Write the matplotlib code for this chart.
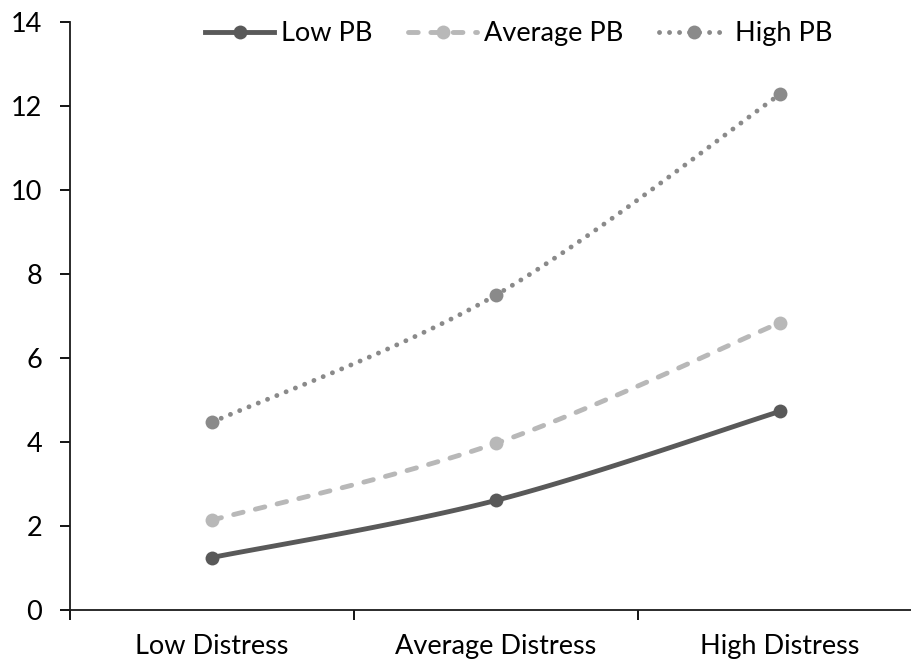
import numpy as np
import matplotlib
matplotlib.use("Agg")
import matplotlib.pyplot as plt

plt.rcParams['font.family'] = ['Lato', 'DejaVu Sans']

categories = ['Low Distress', 'Average Distress', 'High Distress']
low_pb = [1.25, 2.61, 4.73]
avg_pb = [2.14, 3.97, 6.84]
high_pb = [4.47, 7.50, 12.28]


def smooth(xs, ys, n=40):
    # Excel-like smoothed line: bezier segments through the points
    p = np.column_stack([xs, ys]).astype(float)
    ext = np.vstack([p[0], p, p[-1]])
    out = []
    for i in range(len(p) - 1):
        p0, p1 = ext[i + 1], ext[i + 2]
        c1 = p0 + (ext[i + 2] - ext[i]) / 6
        c2 = p1 - (ext[i + 3] - ext[i + 1]) / 6
        t = np.linspace(0, 1, n)[:, None]
        seg = (1 - t) ** 3 * p0 + 3 * (1 - t) ** 2 * t * c1 + 3 * (1 - t) * t ** 2 * c2 + t ** 3 * p1
        out.append(seg if i == 0 else seg[1:])
    s = np.vstack(out)
    return s[:, 0], s[:, 1]


fig = plt.figure(figsize=(9.12, 6.63), dpi=100)
ax = fig.add_axes([70 / 912, 1 - 610 / 663, 852 / 912, 588 / 663])

x = np.arange(len(categories))
series = [
    ('Low PB', low_pb, '#595959', '-', 'butt'),
    ('Average PB', avg_pb, '#b8b8b8', (0, (2, 2.6)), 'round'),
    ('High PB', high_pb, '#8a8a8a', (0, (0.01, 2.05)), 'round'),
]
handles = []
for name, vals, col, ls, cap in series:
    sx, sy = smooth(x, vals)
    ax.plot(sx, sy, color=col, lw=3.5, ls=ls, dash_capstyle=cap, solid_capstyle='round')
    ax.plot(x, vals, 'o', color=col, ms=10, mec='none')
    h, = ax.plot([], [], color=col, lw=3.5, ls=ls, dash_capstyle=cap,
                 marker='o', ms=10, mec='none', label=name)
    handles.append(h)

fs = 19.5
ax.set_xlim(-0.5, 2.5)
ax.set_ylim(0, 14)
ax.set_yticks(np.arange(0, 15, 2))
ax.set_xticks([-0.5, 0.5, 1.5, 2.5])
ax.set_xticklabels([])
ax.set_xticks(x, minor=True)
ax.set_xticklabels(categories, minor=True)
ax.tick_params(axis='x', which='minor', length=0, pad=17, labelsize=fs)
ax.tick_params(axis='x', which='major', length=7, width=1.3, direction='out')
ax.tick_params(axis='y', length=7, width=1.3, direction='out', labelsize=fs, pad=13)
for s in ['top', 'right']:
    ax.spines[s].set_visible(False)
for s in ['left', 'bottom']:
    ax.spines[s].set_linewidth(1.3)
    ax.spines[s].set_color('#1a1a1a')

leg = fig.legend(handles=handles, loc='upper center', bbox_to_anchor=(0.569, 1.005),
                 ncol=3, frameon=False, fontsize=fs, handlelength=2.55,
                 columnspacing=1.3, handletextpad=0.27)

fig.savefig('out.png', dpi=100)
